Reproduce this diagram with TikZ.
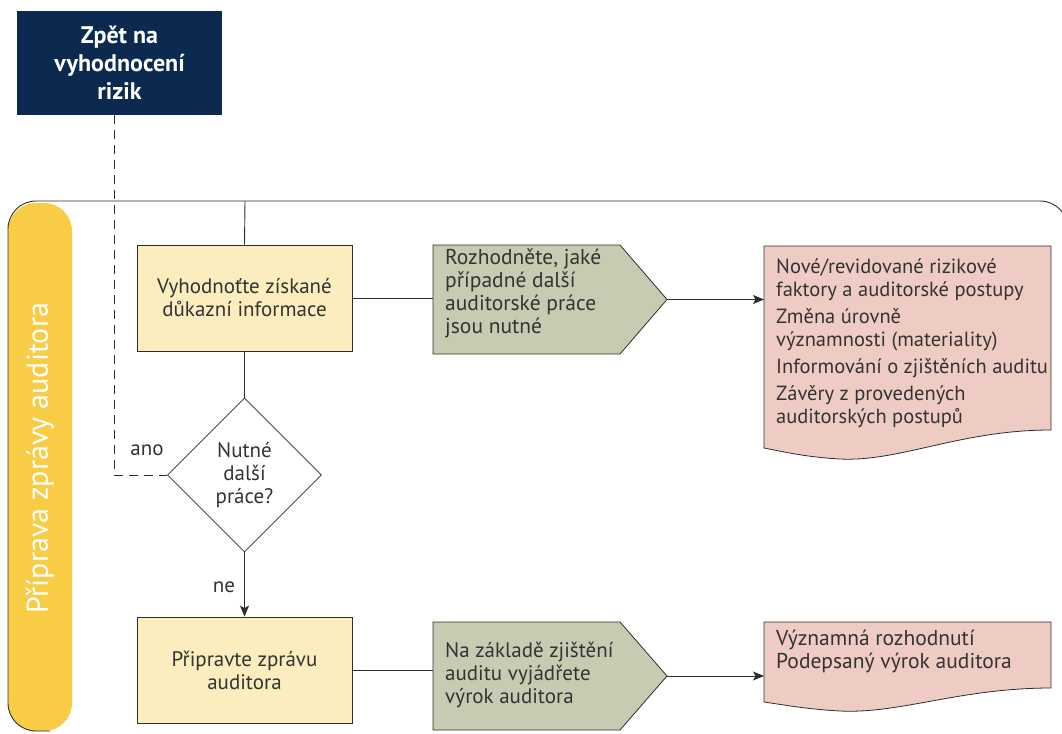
\documentclass[tikz,border=0pt]{standalone}
\usepackage{fontspec}
\setmainfont{PT Sans}
\usetikzlibrary{arrows.meta,shapes.geometric}
\definecolor{navy}{HTML}{0C2A50}
\definecolor{boxy}{HTML}{FBEDBE}
\definecolor{greeny}{HTML}{C6CCB2}
\definecolor{pinky}{HTML}{EFCCC3}
\definecolor{bary}{HTML}{F9CC45}
\definecolor{txt}{HTML}{333333}
\definecolor{ln}{HTML}{2E2E2E}
\begin{document}
\begin{tikzpicture}[x=1pt,y=-1pt,
  txtfont/.style={font=\fontsize{21}{23}\selectfont, text=txt},
  ybox/.style={draw=ln, fill=boxy, minimum width=215pt, minimum height=106pt, align=center, txtfont, line width=0.8pt},
  shapeline/.style={draw=ln, line width=0.8pt},
  conn/.style={draw=ln, line width=0.9pt},
  arr/.style={conn, -{Stealth[length=11pt,width=9pt,inset=2.5pt]}},
  lbl/.style={font=\fontsize{21.5}{23}\selectfont, text=txt, inner sep=0pt, align=left, anchor=west},
  plbl/.style={font=\fontsize{20.5}{23}\selectfont, text=txt, inner sep=0pt, align=left, anchor=north west},
]
\useasboundingbox (0,0) rectangle (1062,733);

% lane bar and frame
\fill[bary, rounded corners=28pt] (8,203) rectangle (72,731);
\draw[conn, rounded corners=28pt] (1068,760) -- (1068,201) -- (8,201) -- (8,731) -- (50,731);
\node[rotate=90, text=white, font=\fontsize{30}{32}\selectfont] (lane) at (40,458) {Příprava zprávy auditora};

% back box
\node[fill=navy, text=white, minimum width=205pt, minimum height=104pt, align=center,
      font=\fontsize{24}{28}\bfseries] (back) at (119.5,63) {Zpět na\\vyhodnocení\\rizik};

% row 1
\coordinate (ftop) at (245,201);
\node[ybox] (b1) at (244.5,298) {Vyhodnoťte získané\\důkazní informace};
\draw[shapeline, fill=greeny] (433,245) -- (620,245) -- (667,299.5) -- (620,354) -- (433,354) -- cycle;
\coordinate (g1w) at (433,298);
\coordinate (g1e) at (667,299.5);
\node[lbl] (g1) at (445,293) {Rozhodněte, jaké\\případné další\\auditorské práce\\jsou nutné};
\draw[shapeline, fill=pinky] (764,246) -- (1051,246) -- (1051,430)
   .. controls (960,430) and (900,462) .. (840,459)
   .. controls (805,457) and (785,452) .. (764,448) -- cycle;
\coordinate (p1w) at (764,299.5);
\node[plbl] (p1) at (776,259) {Nové/revidované rizikové\\faktory a auditorské postupy\\[4pt]Změna úrovně\\významnosti (materiality)\\[4pt]Informování o zjištěních auditu\\[4pt]Závěry z provedených\\auditorských postupů};

% decision
\node[diamond, draw=ln, line width=0.8pt, fill=white, minimum width=154pt, minimum height=154pt, aspect=1, inner sep=0pt,
      align=center, txtfont] (q) at (244.5,475) {Nutné\\další\\práce?};
\node[txtfont, inner sep=0pt] (ano) at (147,450) {ano};
\node[txtfont, inner sep=0pt] (ne) at (224,587) {ne};

% row 2
\node[ybox] (b2) at (244.5,670) {Připravte zprávu\\auditora};
\draw[shapeline, fill=greeny] (433,622) -- (620,622) -- (667,676) -- (620,730) -- (433,730) -- cycle;
\coordinate (g2w) at (433,670);
\coordinate (g2e) at (667,676);
\node[lbl, font=\fontsize{21}{23}\selectfont] (g2) at (445,675) {Na základě zjištění\\auditu vyjádřete\\výrok auditora};
\draw[shapeline, fill=pinky] (764,622) -- (1051,622) -- (1051,688)
   .. controls (960,688) and (900,714) .. (840,711)
   .. controls (805,709) and (785,705) .. (764,702) -- cycle;
\coordinate (p2w) at (764,676);
\node[lbl, anchor=north west] (p2) at (776,630) {Významná rozhodnutí\\Podepsaný výrok auditora};

% connectors
\draw[conn, dashed, dash pattern=on 9pt off 6pt] ([xshift=-5.5pt]back.south) |- (q.west);
\draw[conn] (ftop) -- (b1.north);
\draw[conn] (b1.east) -- (g1w);
\draw[arr] (g1e) -- (p1w);
\draw[conn] (b1.south) -- (q.north);
\draw[arr] (q.south) -- (b2.north);
\draw[conn] (b2.east) -- (g2w);
\draw[arr] (g2e) -- (p2w);
\end{tikzpicture}
\end{document}
